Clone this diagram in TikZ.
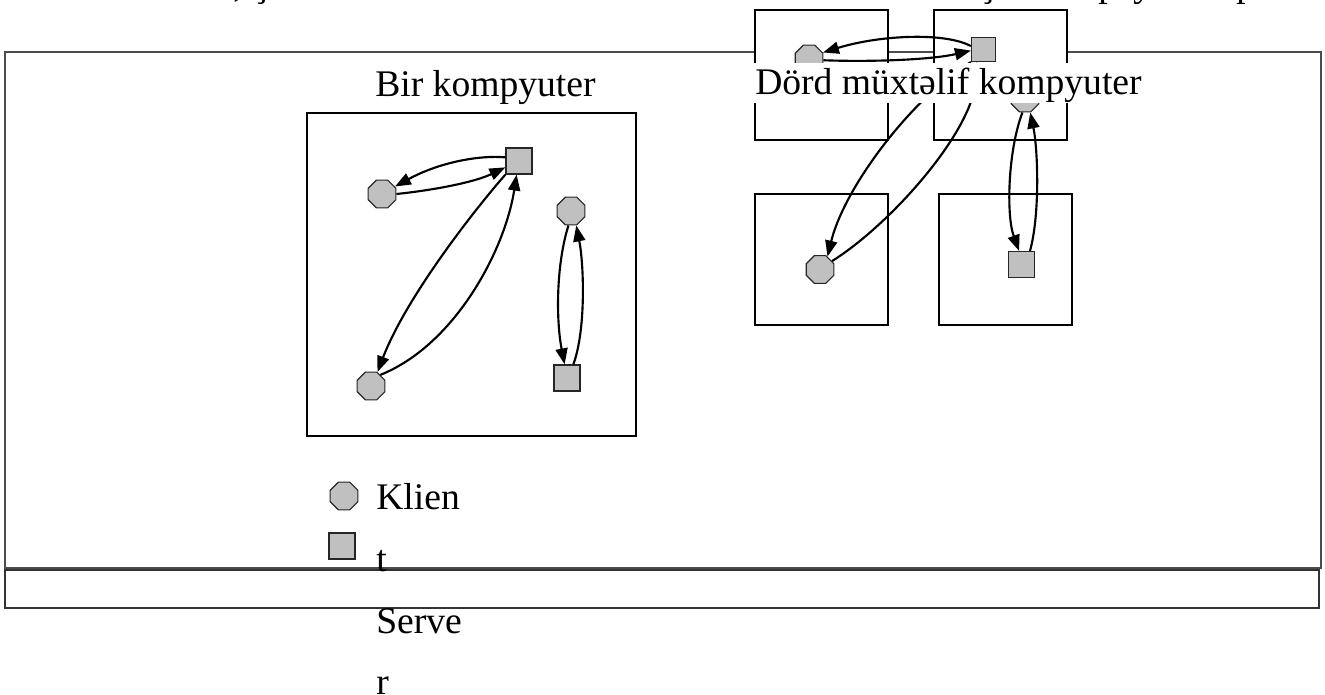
\documentclass[tikz,border=0pt]{standalone}
\usepackage{fontspec}
\setmainfont{Liberation Serif}
\usetikzlibrary{shapes.geometric,arrows.meta}
\definecolor{shapegray}{HTML}{C0C0C0}
\begin{document}
\begin{tikzpicture}[x=0.75pt,y=-0.75pt,
  comp/.style={draw=black,line width=1.5pt,fill=white},
  cli/.style={regular polygon,regular polygon sides=8,minimum size=22.5pt,inner sep=0pt,fill=shapegray,draw=black!85,line width=0.9pt},
  srv/.style={rectangle,minimum size=19.5pt,inner sep=0pt,fill=shapegray,draw=black!85,line width=0.9pt},
  arr/.style={-{Triangle[length=12pt,width=9pt]},line width=1.6pt,black},
  lbl/.style={font=\fontsize{28.2}{34}\selectfont,inner sep=0pt}]
\useasboundingbox (0,0) rectangle (1325,695);
\fill[white] (0,0) rectangle (1325,695);
% frames
\draw[draw=black!70,line width=1.5pt] (5,52) rectangle (1321,568);
\draw[draw=black!80,line width=0.9pt] (5,570) rectangle (1319,608);
% one computer
\draw[comp] (307,113) rectangle (636,436);
\node[srv] (sA) at (519,161) {};
\node[cli] (cA) at (382,194) {};
\node[cli] (cB) at (371,386) {};
\node[cli] (cC) at (571,211) {};
\node[srv] (sC) at (567,378) {};
\draw[arr] (sA.165) .. controls (480,155) and (440,162) .. (cA.30);
\draw[arr] (cA.east) .. controls (435,190) and (475,182) .. (sA.205);
\draw[arr] (sA.south west) .. controls (470,215) and (405,300) .. (cB.65);
\draw[arr] (cB.50) .. controls (455,345) and (505,250) .. (sA.-100);
\draw[arr] (cC.-100) .. controls (556,265) and (556,320) .. (sC.100);
\draw[arr] (sC.65) .. controls (586,330) and (584,265) .. (cC.-70);
% four computers
\draw[comp] (755,10) rectangle (888,140);
\draw[comp] (934,10) rectangle (1067,140);
\draw[comp] (755,194) rectangle (888,325);
\draw[comp] (939,194) rectangle (1072,325);
\node[cli] (c1) at (809,59) {};
\node[srv,minimum size=18pt] (s2) at (983.5,49.5) {};
\node[cli] (c2) at (1025,98) {};
\node[cli] (c3) at (820,269.5) {};
\node[srv] (s4) at (1021.5,264.5) {};
\draw[arr] (s2.165) .. controls (945,32) and (880,35) .. (c1.25);
\draw[arr] (c1.-5) .. controls (870,62) and (930,60) .. (s2.185);
\draw[arr] (s2.south west) .. controls (915,95) and (845,185) .. (c3.60);
\draw[arr] (c3.35) .. controls (890,225) and (975,130) .. (s2.-120);
\draw[arr] (c2.-100) .. controls (1008,150) and (1006,215) .. (s4.100);
\draw[arr] (s4.58) .. controls (1040,215) and (1038,150) .. (c2.-70);
% legend
\node[cli] (lc) at (344,496) {};
\node[srv] (ls) at (342,546) {};
\node[lbl,anchor=north west,align=left,font=\fontsize{28.2}{46.3}\selectfont] (legtxt) at (376,483.4) {Klien\\t\\Serve\\r};
% labels
\node[lbl,anchor=base west] (t1) at (375,97) {Bir kompyuter};
\node[lbl,anchor=base west,fill=white,text height=24pt,text depth=6pt,inner xsep=2.25pt] (t2) at (752,95) {Dörd müxtəlif kompyuter};
% cut-off text at the top
\node[lbl,anchor=base west] (f1) at (233,-3) {, ç};
\node[lbl,anchor=base west] (f2) at (981,-3) {ş};
\node[lbl,anchor=base west] (f3) at (1098,-3) {p};
\node[lbl,anchor=base west] (f4) at (1133,-3) {y};
\node[lbl,anchor=base west] (f5) at (1236,-3) {p};
\end{tikzpicture}
\end{document}
